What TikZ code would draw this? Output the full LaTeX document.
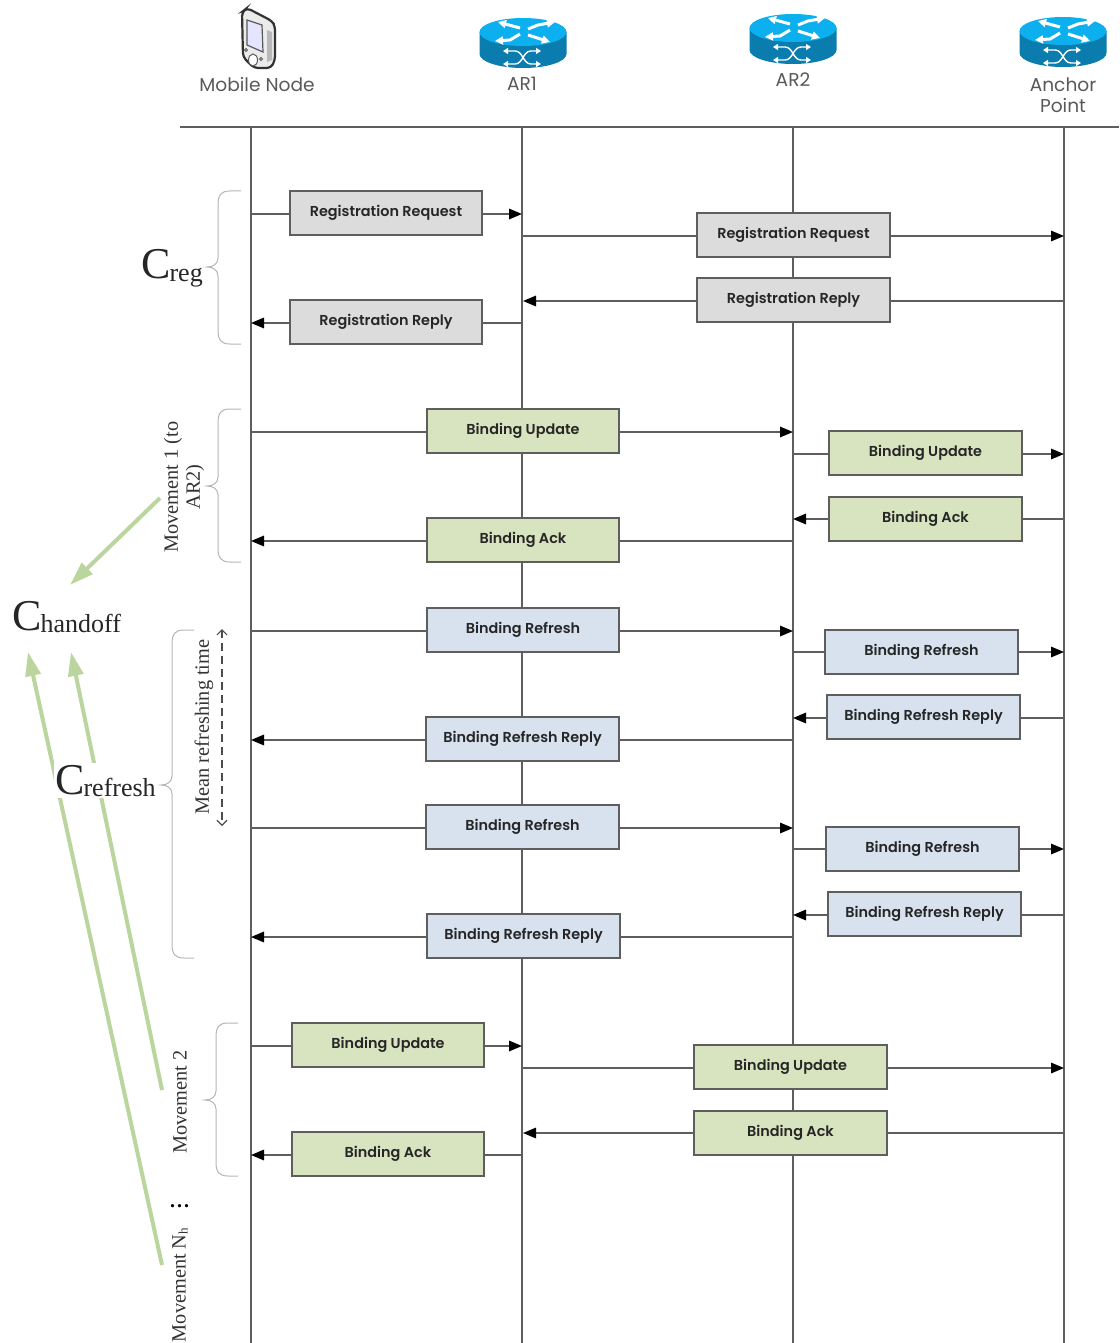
\documentclass[tikz,border=0pt]{standalone}
\usepackage{fontspec}
\setmainfont{Liberation Serif}
\newfontfamily\boxfont{Poppins SemiBold}
\newfontfamily\labfont{Poppins}
\usetikzlibrary{arrows.meta,calc}
\definecolor{lineg}{HTML}{5E5E5E}
\definecolor{boxgray}{HTML}{DCDCDC}
\definecolor{boxgreen}{HTML}{D8E3BF}
\definecolor{boxblue}{HTML}{D8E1EE}
\definecolor{bracegray}{HTML}{B5B5B5}
\definecolor{arrowgreen}{HTML}{BBD59E}
\definecolor{rtop}{HTML}{0DB0EE}
\definecolor{rside}{HTML}{0A7DAE}
\tikzset{
  life/.style={draw=lineg,line width=1.4pt},
  conn/.style={draw=lineg,line width=1.6pt},
  tipped/.style={conn,-{Triangle[length=13pt,width=10.5pt,black]}},
  msgbox/.style={draw=lineg,line width=1.6pt,inner sep=0pt,font=\boxfont\fontsize{14.4}{16}\selectfont,text=black!85},
  bracepath/.style={draw=bracegray,line width=1pt},
  greenarrow/.style={draw=arrowgreen,line width=4pt,-{Triangle[length=24pt,width=15pt]}},
  complabel/.style={inner sep=0pt,text=black!85},
  rotlabel/.style={inner sep=0pt,rotate=90,font=\fontsize{20.3}{24}\selectfont,text=black!80},
  toplabel/.style={inner sep=0pt,font=\labfont\fontsize{18.6}{22}\selectfont,text=black!65,align=center},
}
\newcommand\boxtext[1]{\raisebox{-2pt}{#1}}
% id, left, top, right, bottom, line y, fill, text, from x, to x
\newcommand\msgR[9]{%
  \node[msgbox,fill=#7,minimum width=#4pt-#2pt,minimum height=#5pt-#3pt] (#1) at ({(#2+#4)/2},{(#3+#5)/2}) {\boxtext{#8}};
  \coordinate (#1a) at (#9,#6);
  \msgRend{#1}{#6}}
\newcommand\msgRend[3]{%
  \coordinate (#1b) at (#3,#2);
  \draw[conn] (#1a) -- (#1a -| #1.west);
  \draw[tipped] (#1b -| #1.east) -- (#1b);}
\newcommand\msgL[9]{%
  \node[msgbox,fill=#7,minimum width=#4pt-#2pt,minimum height=#5pt-#3pt] (#1) at ({(#2+#4)/2},{(#3+#5)/2}) {\boxtext{#8}};
  \coordinate (#1a) at (#9,#6);
  \msgLend{#1}{#6}}
\newcommand\msgLend[3]{%
  \coordinate (#1b) at (#3,#2);
  \draw[conn] (#1a) -- (#1a -| #1.east);
  \draw[tipped] (#1b -| #1.west) -- (#1b);}
% tip x, column x, end x, top, mid, bottom
\newcommand\gbrace[6]{%
  \draw[bracepath] (#3,#4) -- (#2+12,#4) .. controls (#2+3,#4) and (#2,#4+4) .. (#2,#4+14)
    -- (#2,#5-9) .. controls (#2,#5-3) and (#2-5,#5) .. (#1,#5)
    .. controls (#2-5,#5) and (#2,#5+3) .. (#2,#5+9)
    -- (#2,#6-14) .. controls (#2,#6-4) and (#2+3,#6) .. (#2+12,#6) -- (#3,#6);}
\newcommand\router[2]{%
  \begin{scope}[shift={(#1,#2)}]
    \fill[rside] (-43.5,0) -- (-43.5,22) arc[start angle=180,end angle=0,x radius=43.5,y radius=14] -- (43.5,0) -- cycle;
    \fill[rtop] (0,0) ellipse[x radius=43.5,y radius=14];
    \begin{scope}[white,line width=3pt,-{Triangle[length=8pt,width=8pt]}]
      \draw (-3,-4) -- (-25,-10);
      \draw (5,-3) -- (15,-7) -- (32,-10);
      \draw (-3,2) -- (-13,8) -- (-28,9);
      \draw (5,3) -- (27,10);
    \end{scope}
    \begin{scope}[white,line width=1.4pt,{Triangle[length=5pt,width=6pt]}-{Triangle[length=5pt,width=6pt]}]
      \draw (-20,19) -- (-8,19) .. controls (0,19) and (0,32) .. (8,32) -- (18,32);
      \draw (-20,32) -- (-8,32) .. controls (0,32) and (0,19) .. (8,19) -- (18,19);
    \end{scope}
  \end{scope}}
\begin{document}
\begin{tikzpicture}[x=1pt,y=-1pt]
\useasboundingbox (0,0) rectangle (1119,1343);
% header rule and lifelines
\coordinate (ruleL) at (180,127);
\coordinate (ruleR) at (1119,127);
\draw[life] (ruleL) -- (ruleR);
\foreach \n/\x in {mn/251,ara/522,arb/793,ap/1064}{
  \coordinate (\n top) at (\x,127);
  \coordinate (\n bot) at (\x,1343);
  \draw[life] (\n top) -- (\n bot);
}
% mobile icon
\draw[black!80,line width=2.2pt,fill=black!8,rounded corners=4pt]
  (242,12) -- (247,8) -- (272,21) -- (275,26) -- (275,60) -- (271,68) -- (254,68) -- (243,57) -- cycle;
\fill[black!28] (267,30) -- (272,32) -- (272,60) -- (267,62) -- cycle;
\draw[black!65,line width=1.2pt,fill=blue!10] (247,20) -- (262,25) -- (263,52) -- (247,45) -- cycle;
\draw[black!65,line width=1pt,fill=white] (253,60) ellipse[x radius=4.5,y radius=6];
\draw[black!65,line width=.9pt] (246,50) circle[radius=1.6] (261,59) circle[radius=1.6];
% routers
\router{523}{32}
\router{793}{28}
\router{1063}{31}
\node[toplabel] (lmn) at (257,85) {Mobile Node};
\node[toplabel] (lar1) at (522,84) {AR1};
\node[toplabel] (lar2) at (793,80) {AR2};
\node[toplabel] (lap) at (1063,95) {Anchor\\[-1pt]Point};
% messages
\msgR{m1}{290}{191}{482}{235}{214}{boxgray}{Registration Request}{251}{522}
\msgR{m2}{697}{213}{890}{257}{236}{boxgray}{Registration Request}{522}{1064}
\msgL{m3}{697}{278}{890}{322}{301}{boxgray}{Registration Reply}{1064}{523}
\msgL{m4}{290}{300}{482}{344}{323}{boxgray}{Registration Reply}{522}{251}
\msgR{m5}{427}{409}{619}{453}{432}{boxgreen}{Binding Update}{251}{793}
\msgR{m6}{829}{431}{1022}{475}{454}{boxgreen}{Binding Update}{793}{1064}
\msgL{m7}{829}{497}{1022}{541}{519}{boxgreen}{Binding Ack}{1064}{793}
\msgL{m8}{427}{518}{619}{562}{541}{boxgreen}{Binding Ack}{793}{251}
\msgR{m9}{427}{608}{619}{652}{631}{boxblue}{Binding Refresh}{251}{793}
\msgR{m10}{825}{630}{1018}{674}{652}{boxblue}{Binding Refresh}{793}{1064}
\msgL{m11}{827}{695}{1020}{739}{718}{boxblue}{Binding Refresh Reply}{1064}{793}
\msgL{m12}{426}{717}{619}{761}{740}{boxblue}{Binding Refresh Reply}{793}{251}
\msgR{m13}{426}{805}{619}{849}{828}{boxblue}{Binding Refresh}{251}{793}
\msgR{m14}{826}{827}{1019}{871}{849}{boxblue}{Binding Refresh}{793}{1064}
\msgL{m15}{828}{892}{1021}{936}{915}{boxblue}{Binding Refresh Reply}{1064}{793}
\msgL{m16}{427}{914}{620}{958}{937}{boxblue}{Binding Refresh Reply}{793}{251}
\msgR{m17}{292}{1023}{484}{1067}{1046}{boxgreen}{Binding Update}{251}{522}
\msgR{m18}{694}{1045}{887}{1089}{1068}{boxgreen}{Binding Update}{522}{1064}
\msgL{m19}{694}{1111}{887}{1155}{1133}{boxgreen}{Binding Ack}{1064}{523}
\msgL{m20}{292}{1132}{484}{1176}{1155}{boxgreen}{Binding Ack}{522}{251}
% braces
\gbrace{207}{218}{241}{191}{267}{344}
\gbrace{207}{218}{241}{409}{486}{562}
\gbrace{161}{172}{194}{630}{785}{958}
\gbrace{205}{216}{238}{1023}{1100}{1176}
% green arrows
\coordinate (g1s) at (160,498);
\coordinate (g1e) at (70,585);
\coordinate (g2s) at (162,1090);
\coordinate (g2e) at (71,652);
\coordinate (g3s) at (162,1265);
\coordinate (g3e) at (28,652);
\draw[greenarrow] (g1s) -- (g1e);
\draw[greenarrow] (g2s) -- (g2e);
\draw[greenarrow] (g3s) -- (g3e);
% cost labels
\node[complabel,anchor=base west] (creg) at (141,278) {\fontsize{44}{44}\selectfont C\kern-1pt\raisebox{-3pt}{\fontsize{26}{26}\selectfont reg}};
\node[complabel,anchor=base west] (chand) at (12,630) {\fontsize{44}{44}\selectfont C\kern-1pt\raisebox{-2pt}{\fontsize{26}{26}\selectfont handoff}};
\node[complabel,anchor=base west,fill=white,inner xsep=1pt,inner ysep=2pt] (cref) at (54,794) {\fontsize{44}{44}\selectfont C\kern-1pt\raisebox{-2pt}{\fontsize{26}{26}\selectfont refresh}};
% rotated labels
\node[rotlabel] (mv1) at (173,487) {Movement 1 (to};
\node[rotlabel] (mv1b) at (195,487) {AR2)};
\node[rotlabel] (mrt) at (204,727) {Mean refreshing time};
\node[rotlabel] (mv2) at (180,1102) {Movement 2};
\node[inner sep=0pt,font=\bfseries\fontsize{20}{22}\selectfont,anchor=base] (dots) at (179.5,1207) {.\kern2pt.\kern2pt.};
\node[rotlabel] (mvn) at (180,1285) {Movement N\raisebox{-2pt}{\fontsize{13}{13}\selectfont h}};
% mean refreshing time span
\coordinate (spanT) at (222,629);
\coordinate (spanB) at (222,826);
\draw[draw=black!70,line width=1.2pt,dash pattern=on 8pt off 5pt,{Straight Barb[length=5pt,width=10pt]}-{Straight Barb[length=5pt,width=10pt]}] (spanT) -- (spanB);
\end{tikzpicture}
\end{document}
